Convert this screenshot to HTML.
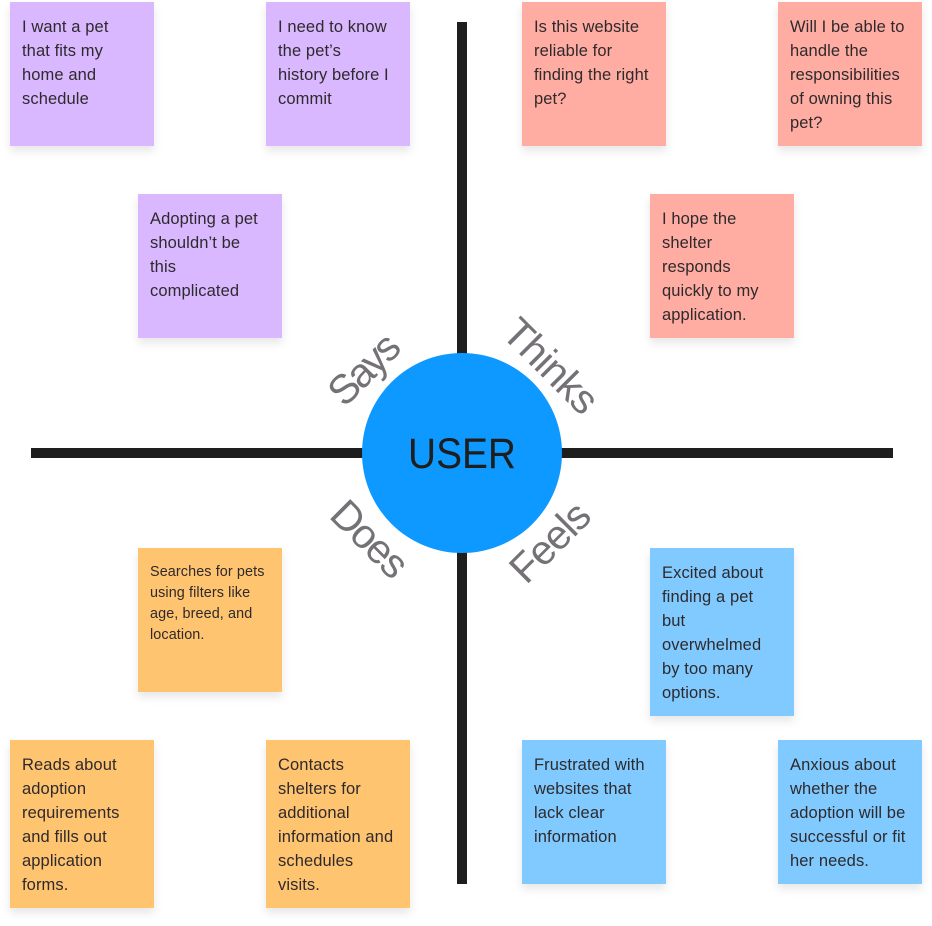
<!DOCTYPE html>
<html><head><meta charset="utf-8"><style>
html,body{margin:0;padding:0;background:#fff}
body{width:932px;height:926px;position:relative;overflow:hidden;font-family:"Liberation Sans",sans-serif}
.n{position:absolute;width:144px;height:144px;box-sizing:border-box;padding:13px 0 0 12px;font-size:16.5px;line-height:24px;letter-spacing:.1px;color:#2e2a2c;white-space:nowrap;box-shadow:0 5px 9px rgba(0,0,0,.1)}
.t{height:168px}
.p{background:#d9b8ff}.r{background:#ffaca3}.o{background:#ffc470}.b{background:#80caff}
.s{font-size:14.4px;line-height:21px;letter-spacing:.1px;padding-top:14px}
svg{position:absolute;left:0;top:0}
</style></head><body>
<svg width="932" height="926" viewBox="0 0 932 926">
<rect x="457" y="22" width="10" height="862" fill="#1e1e1e"/>
<rect x="31" y="448" width="862" height="10" fill="#1e1e1e"/>
<circle cx="462" cy="453" r="100" fill="#0d99ff"/>
<text x="462" y="468" text-anchor="middle" font-family="Liberation Sans" font-size="43" fill="#1e1e1e" textLength="108" lengthAdjust="spacingAndGlyphs">USER</text>
<g font-family="Liberation Sans" font-size="41" fill="#757277" text-anchor="middle">
<text transform="translate(364 369) rotate(-45)" y="14" textLength="83">Says</text>
<text transform="translate(551 366) rotate(45)" y="14" textLength="116">Thinks</text>
<text transform="translate(370 539) rotate(45)" y="14" textLength="91">Does</text>
<text transform="translate(550 542) rotate(-45)" y="14" textLength="95">Feels</text>
</g>
</svg>
<div class="n p" style="left:10px;top:2px">I want a pet<br>that fits my<br>home and<br>schedule</div>
<div class="n p" style="left:266px;top:2px">I need to know<br>the pet’s<br>history before I<br>commit</div>
<div class="n p" style="left:138px;top:194px">Adopting a pet<br>shouldn’t be<br>this<br>complicated</div>
<div class="n r" style="left:522px;top:2px">Is this website<br>reliable for<br>finding the right<br>pet?</div>
<div class="n r" style="left:778px;top:2px">Will I be able to<br>handle the<br>responsibilities<br>of owning this<br>pet?</div>
<div class="n r" style="left:650px;top:194px">I hope the<br>shelter<br>responds<br>quickly to my<br>application.</div>
<div class="n o s" style="left:138px;top:548px">Searches for pets<br>using filters like<br>age, breed, and<br>location.</div>
<div class="n o t" style="left:10px;top:740px">Reads about<br>adoption<br>requirements<br>and fills out<br>application<br>forms.</div>
<div class="n o t" style="left:266px;top:740px">Contacts<br>shelters for<br>additional<br>information and<br>schedules<br>visits.</div>
<div class="n b t" style="left:650px;top:548px">Excited about<br>finding a pet<br>but<br>overwhelmed<br>by too many<br>options.</div>
<div class="n b" style="left:522px;top:740px">Frustrated with<br>websites that<br>lack clear<br>information</div>
<div class="n b" style="left:778px;top:740px">Anxious about<br>whether the<br>adoption will be<br>successful or fit<br>her needs.</div>
</body></html>
